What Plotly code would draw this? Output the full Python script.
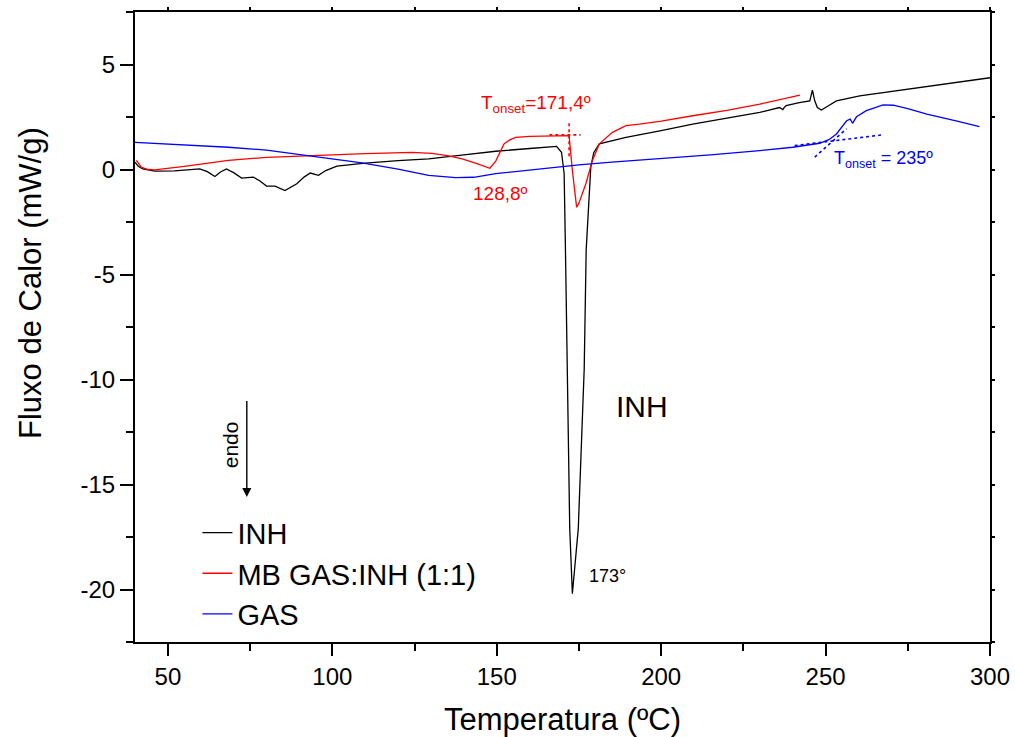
import plotly.graph_objects as go

# ---------------- data ----------------
INH_T = [40, 41, 42.4, 46, 52, 59.7, 62, 64.3, 66, 67.8, 70, 72.4, 76, 78, 80, 82.6, 85.6,
         89.2, 91.5, 93.3, 95.8, 98, 101.4, 110, 120, 129.3, 140, 149.7, 160, 168.2, 169.7,
         170.5, 170.9, 171.4, 172.2, 173.0, 174.8, 176.6, 177.2, 178.6, 179.5, 181.2, 185,
         189.3, 200, 209.6, 220, 230, 236, 237, 237.4, 238, 242, 245.2, 246, 246.7, 247.5,
         248.7, 250.5, 253.3, 260.4, 270, 280.8, 290, 300]
INH_V = [0.35, 0.15, 0.03, -0.08, -0.07, 0.03, -0.1, -0.33, -0.12, 0.03, -0.15, -0.41, -0.36,
         -0.55, -0.79, -0.79, -1.0, -0.68, -0.35, -0.17, -0.28, -0.05, 0.16, 0.3, 0.42, 0.51,
         0.7, 0.87, 1.0, 1.10, 0.82, -0.19, -3.84, -9.5, -17.1, -20.2, -17.1, -9.5, -3.84,
         0.11, 0.8, 1.22, 1.38, 1.53, 1.85, 2.16, 2.45, 2.72, 2.95, 2.85, 2.95, 3.04, 3.18,
         3.27, 3.78, 3.27, 2.95, 2.83, 3.0, 3.27, 3.51, 3.72, 3.93, 4.15, 4.37]

MB_T = [40.4, 41.2, 41.9, 44, 46, 55, 68.4, 80, 98.8, 110, 124.2, 130.3, 135, 139.5, 144,
        147.9, 149.7, 151.4, 152.2, 154, 155.8, 160, 171, 172, 173, 174.3, 175, 177.1, 179.1,
        181.2, 185.2, 189.3, 193.4, 200, 209.6, 220, 230, 242.2]
MB_V = [0.43, 0.25, 0.11, 0.0, -0.02, 0.15, 0.43, 0.58, 0.71, 0.76, 0.82, 0.77, 0.66, 0.51,
        0.28, 0.06, 0.4, 0.98, 1.22, 1.41, 1.53, 1.58, 1.64, 1.61, -0.05, -1.8, -1.6, -0.68,
        0.43, 1.22, 1.77, 2.09, 2.16, 2.3, 2.56, 2.82, 3.11, 3.54]

GAS_T = [40, 55, 68.4, 80, 88.7, 100, 109, 120, 129.3, 137.5, 143, 149.7, 160, 169, 175,
         185, 199.5, 215, 230, 240, 248.2, 251, 253.3, 256.4, 257.5, 258.2, 259.4, 262.4,
         267.5, 270.6, 275, 280.8, 290, 296.8]
GAS_V = [1.29, 1.18, 1.06, 0.92, 0.74, 0.52, 0.32, 0.02, -0.28, -0.39, -0.37, -0.2, -0.02,
         0.11, 0.22, 0.35, 0.51, 0.7, 0.9, 1.06, 1.25, 1.42, 1.69, 2.32, 2.4, 2.2, 2.51, 2.8,
         3.08, 3.06, 2.9, 2.64, 2.3, 2.04]

# onset construction lines
MB_ONSET_V_T = [172.0, 172.0]
MB_ONSET_V_V = [2.2, 0.6]
MB_ONSET_H_T = [166.0, 175.5]
MB_ONSET_H_V = [1.65, 1.65]
GAS_BASE_T = [240.6, 267.4]
GAS_BASE_V = [1.14, 1.65]
GAS_TAN_T = [246.7, 256.4]
GAS_TAN_V = [0.59, 1.94]

X_RANGE = [40, 300]
Y_RANGE = [-22.5, 7.5]
Y_TICKS = [-20, -15, -10, -5, 0, 5]
Y_TICK_TEXT = ["-20", "-15", "-10", "-5", "0", "5"]
Y_MINOR = [-22.5, -17.5, -12.5, -7.5, -2.5, 2.5, 7.5]
X_TICKS = [50, 100, 150, 200, 250, 300]
X_MINOR = [75, 125, 175, 225, 275]

FONT = "Liberation Sans, Arial, sans-serif"

fig = go.Figure()
fig.add_trace(go.Scatter(x=INH_T, y=INH_V, mode="lines", name="INH",
                         line=dict(color="#000000", width=1.3)))
fig.add_trace(go.Scatter(x=MB_T, y=MB_V, mode="lines", name="MB GAS:INH (1:1)",
                         line=dict(color="#ff0000", width=1.3)))
fig.add_trace(go.Scatter(x=GAS_T, y=GAS_V, mode="lines", name="GAS",
                         line=dict(color="#0000ff", width=1.3)))

for tx, ty, col in [(MB_ONSET_V_T, MB_ONSET_V_V, "#ff0000"),
                    (MB_ONSET_H_T, MB_ONSET_H_V, "#ff0000"),
                    (GAS_BASE_T, GAS_BASE_V, "#0000ff"),
                    (GAS_TAN_T, GAS_TAN_V, "#0000ff")]:
    fig.add_trace(go.Scatter(x=tx, y=ty, mode="lines", showlegend=False, hoverinfo="skip",
                             line=dict(color=col, width=1.6, dash="dot")))

# invisible trace to carry the mirrored (top/right) tick axes
fig.add_trace(go.Scatter(x=X_RANGE, y=Y_RANGE, xaxis="x2", yaxis="y2", mode="lines",
                         line=dict(width=0), showlegend=False, hoverinfo="skip"))

fig.update_layout(
    width=1015, height=737,
    margin=dict(l=135, r=25, t=12, b=95, autoexpand=False),
    paper_bgcolor="white", plot_bgcolor="white",
    font=dict(family=FONT, color="black"),
    showlegend=True,
    legend=dict(x=0.073, y=0.214, xanchor="left", yanchor="top",
                font=dict(size=29, family=FONT, color="black"),
                bgcolor="rgba(0,0,0,0)", borderwidth=0, tracegroupgap=0),
    xaxis=dict(range=X_RANGE, showgrid=False, zeroline=False, automargin=False,
               showline=True, linecolor="black", linewidth=2, mirror=True,
               ticks="outside", ticklen=12, tickwidth=2, tickcolor="black",
               tickmode="array", tickvals=X_TICKS,
               minor=dict(ticks="outside", ticklen=7, tickwidth=2, tickcolor="black",
                          tickmode="array", tickvals=X_MINOR, showgrid=False),
               tickfont=dict(size=24, family=FONT, color="black"),
               title=dict(text="Temperatura (ºC)", font=dict(size=31, family=FONT),
                          standoff=25)),
    yaxis=dict(range=Y_RANGE, showgrid=False, zeroline=False, automargin=False,
               showline=True, linecolor="black", linewidth=2, mirror=True,
               ticks="outside", ticklen=13, tickwidth=2, tickcolor="black",
               tickmode="array", tickvals=Y_TICKS, ticktext=Y_TICK_TEXT,
               minor=dict(ticks="outside", ticklen=7, tickwidth=2, tickcolor="black",
                          tickmode="array", tickvals=Y_MINOR, showgrid=False),
               tickfont=dict(size=24, family=FONT, color="black")),
    xaxis2=dict(range=X_RANGE, overlaying="x", side="top", showgrid=False, zeroline=False,
                automargin=False, showline=False, ticks="outside", ticklen=4,
                tickwidth=1.5, tickcolor="black", tick0=0, dtick=25,
                showticklabels=False),
    yaxis2=dict(range=Y_RANGE, overlaying="y", side="right", showgrid=False,
                zeroline=False, automargin=False, showline=False, ticks="outside",
                ticklen=4, tickwidth=1.5, tickcolor="black", tick0=0, dtick=2.5,
                showticklabels=False),
)

ann = []
# y axis title (placed as in reference)
ann.append(dict(text="Fluxo de Calor (mW/g)", xref="paper", yref="paper",
                x=(30 - 135) / 855, y=(642 - 283) / 630, textangle=-90,
                showarrow=False, font=dict(size=31, family=FONT, color="black"),
                xanchor="center", yanchor="middle"))
ann.append(dict(text="T<sub>onset</sub>=171,4º", x=162.0, y=3.1, xref="x", yref="y",
                showarrow=False, font=dict(size=19, family=FONT, color="#ff0000")))
ann.append(dict(text="128,8º", x=151.2, y=-1.15, xref="x", yref="y",
                showarrow=False, font=dict(size=19, family=FONT, color="#ff0000")))
ann.append(dict(text="T<sub>onset</sub> = 235º", x=267.5, y=0.5, xref="x", yref="y",
                showarrow=False, font=dict(size=18, family=FONT, color="#0000ff")))
ann.append(dict(text="173°", x=183.7, y=-19.38, xref="x", yref="y",
                showarrow=False, font=dict(size=18, family=FONT, color="black")))
ann.append(dict(text="INH", x=194.2, y=-11.3, xref="x", yref="y",
                showarrow=False, font=dict(size=30, family=FONT, color="black")))
ann.append(dict(text="endo", x=69.1, y=-13.1, xref="x", yref="y", textangle=-90,
                showarrow=False, font=dict(size=21, family=FONT, color="black")))
ann.append(dict(text=" ", x=74.0, y=-15.6, ax=74.0, ay=-10.62, xref="x", yref="y",
                axref="x", ayref="y", showarrow=True, arrowhead=2, arrowsize=1.3,
                arrowwidth=1.4, arrowcolor="black"))
fig.update_layout(annotations=ann)

fig.write_html("out.html")
